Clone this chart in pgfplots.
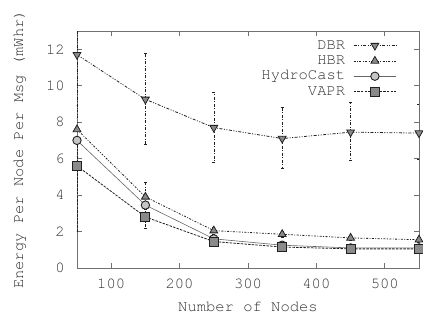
\documentclass[border=0pt]{standalone}
\usepackage{fontspec}
\setmainfont{TeX Gyre Cursor}
\usepackage{pgfplots}
\pgfplotsset{compat=1.18}
\definecolor{axgray}{HTML}{707070}
\definecolor{txt}{HTML}{303030}
\definecolor{ln}{HTML}{202020}
\definecolor{mk}{HTML}{8A8A8A}
\begin{document}
\fontsize{15.5}{15.5}\selectfont
\begin{tikzpicture}
\path[use as bounding box] (-77pt,-47pt) rectangle (346pt,268pt);
\begin{axis}[
  at={(0,0)}, anchor=south west,
  scale only axis, width=342pt, height=237pt,
  xmin=50, xmax=550, ymin=0, ymax=13,
  xtick={100,200,...,500}, ytick={0,2,...,12},
  tick align=inside, major tick length=5pt,
  tick style={axgray, line width=0.6pt},
  axis line style={axgray, line width=0.7pt},
  /pgf/number format/assume math mode=true,
  ticklabel style={font=\fontsize{15.5}{15.5}\selectfont, text=txt},
  xticklabel style={anchor=center, yshift=-16pt, inner sep=0pt},
  yticklabel style={anchor=east, xshift=-12pt, inner sep=0pt},
  xlabel={Number of Nodes},
  ylabel={Energy Per Node Per Msg (mWhr)},
  label style={font=\fontsize{15.5}{15.5}\selectfont, text=txt},
  xlabel style={at={(axis description cs:0.5,-0.1646)}, anchor=center},
  ylabel style={at={(axis description cs:-0.1667,0.5)}, anchor=center},
  legend style={at={(axis description cs:0.944,0.975)}, anchor=north east,
    draw=none, fill=none, font=\fontsize{15.5}{15.5}\selectfont, text=txt,
    column sep=8pt, row sep=2.3pt,
    nodes={inner sep=0pt, text height=10pt, text depth=3pt}},
  legend cell align=right,
  legend plot pos=right,
  legend image code/.code={\draw[mark repeat=2,mark phase=2,#1] plot coordinates {(0cm,0cm) (0.75cm,0cm) (1.5cm,0cm)};},
  error bars/y dir=both, error bars/y explicit,
  error bars/error mark options={rotate=90, mark size=1.5pt, solid, line width=0.6pt},
]
% DBR
\addplot[color=ln, line width=0.8pt, dash pattern=on 3pt off 1.5pt on 1pt off 1.5pt on 1pt off 1.5pt,
  mark=triangle*, mark size=4.5pt, mark options={rotate=180, solid, fill=mk, draw=ln},
  error bars/error bar style={dash pattern=on 3pt off 1.5pt on 1pt off 1.5pt}]
  coordinates {
  (50,11.7) += (0,2.5) -= (0,2.8)
  (150,9.25) += (0,2.55) -= (0,2.45)
  (250,7.7) += (0,1.95) -= (0,1.9)
  (350,7.1) += (0,1.7) -= (0,1.65)
  (450,7.45) += (0,1.65) -= (0,1.55)
  (550,7.4) += (0,1.6) -= (0,1.45)
};
\addlegendentry{DBR}
% HBR
\addplot[color=ln, line width=0.8pt, dash pattern=on 2pt off 1.5pt on 0.8pt off 1.5pt,
  mark=triangle*, mark size=4.5pt, mark options={solid, fill=mk, draw=ln},
  error bars/error bar style={dash pattern=on 2pt off 1.5pt on 0.8pt off 1.5pt}]
  coordinates {
  (50,7.6) += (0,1.3) -= (0,1.5)
  (150,3.9) += (0,0.8) -= (0,0.7)
  (250,2.05) += (0,0.2) -= (0,0.2)
  (350,1.85) += (0,0.15) -= (0,0.15)
  (450,1.65) += (0,0.15) -= (0,0.15)
  (550,1.55) += (0,0.15) -= (0,0.15)
};
\addlegendentry{HBR}
% HydroCast
\addplot[color=gray!80!black, line width=0.6pt, solid,
  mark=*, mark size=4.2pt, mark options={solid, fill=mk!50, draw=ln, line width=0.9pt},
  error bars/error bar style={dash pattern=on 1pt off 1pt, color=gray}]
  coordinates {
  (50,7.0) += (0,1.2) -= (0,1.4)
  (150,3.45) += (0,0.6) -= (0,0.6)
  (250,1.6) += (0,0.15) -= (0,0.15)
  (350,1.25) += (0,0.1) -= (0,0.1)
  (450,1.1) += (0,0.1) -= (0,0.1)
  (550,1.1) += (0,0.1) -= (0,0.1)
};
\addlegendentry{HydroCast}
% VAPR
\addplot[color=ln, line width=0.8pt, dash pattern=on 2.5pt off 1.2pt,
  mark=square*, mark size=4.5pt, mark options={solid, fill=mk, draw=ln},
  error bars/error bar style={dash pattern=on 2.5pt off 1.2pt}]
  coordinates {
  (50,5.6) += (0,1.5) -= (0,3.6)
  (150,2.8) += (0,0.5) -= (0,0.6)
  (250,1.45) += (0,0.15) -= (0,0.15)
  (350,1.15) += (0,0.1) -= (0,0.1)
  (450,1.05) += (0,0.1) -= (0,0.1)
  (550,1.05) += (0,0.1) -= (0,0.1)
};
\addlegendentry{VAPR}
\end{axis}
\end{tikzpicture}
\end{document}
